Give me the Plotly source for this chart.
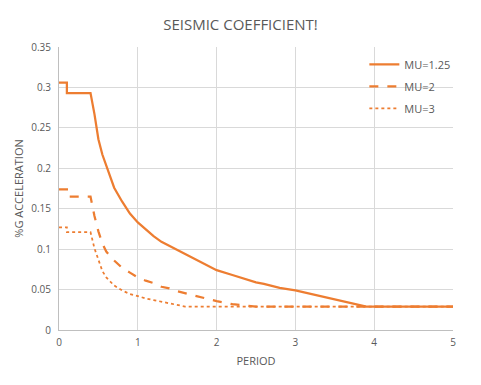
import plotly.graph_objects as go

periods = [0, 0.1, 0.1, 0.4, 0.45, 0.5, 0.55, 0.6, 0.7, 0.8, 0.9, 1.0, 1.1, 1.2, 1.3,
           1.4, 1.5, 1.6, 1.8, 2.0, 2.2, 2.4, 2.5, 2.6, 2.8, 3.0, 3.5, 3.9, 4.0, 4.5, 5.0]

mu_125 = [0.306, 0.306, 0.293, 0.293, 0.267, 0.236, 0.217, 0.203, 0.176, 0.159, 0.144, 0.133,
          0.124, 0.116, 0.109, 0.104, 0.098, 0.093, 0.083, 0.074, 0.068, 0.062, 0.059, 0.057,
          0.052, 0.049, 0.038, 0.029, 0.029, 0.029, 0.029]
mu_2 = [0.174, 0.174, 0.165, 0.165, 0.141, 0.122, 0.107, 0.097, 0.086, 0.077, 0.071, 0.065,
        0.061, 0.058, 0.0535, 0.0515, 0.048, 0.0455, 0.040, 0.0357, 0.032, 0.0295, 0.029, 0.029,
        0.029, 0.029, 0.029, 0.029, 0.029, 0.029, 0.029]
mu_3 = [0.127, 0.127, 0.121, 0.121, 0.101, 0.086, 0.073, 0.065, 0.055, 0.049, 0.0445, 0.042,
        0.039, 0.037, 0.035, 0.033, 0.031, 0.029, 0.029, 0.029, 0.029, 0.029, 0.029, 0.029,
        0.029, 0.029, 0.029, 0.029, 0.029, 0.029, 0.029]

series_names = ["MU=1.25", "MU=2", "MU=3"]
x_ticks = [0, 1, 2, 3, 4, 5]
y_ticks = [0, 0.05, 0.1, 0.15, 0.2, 0.25, 0.3, 0.35]

ORANGE = "#ED7D31"
FONT = "Open Sans"
TXT = "#595959"

fig = go.Figure()
styles = [("solid", 2.25), ("dash", 2.25), ("dot", 1.75)]
for i, (name, vals) in enumerate(zip(series_names, [mu_125, mu_2, mu_3])):
    dash, w = styles[i]
    fig.add_trace(go.Scatter(x=periods, y=vals, mode="lines", name=name,
                             legendgroup=name,
                             line=dict(color=ORANGE, width=w, dash=dash)))

fig.update_layout(
    width=481, height=385,
    margin=dict(l=59, r=28, t=47, b=55),
    paper_bgcolor="white", plot_bgcolor="white",
    font=dict(family=FONT, color=TXT, size=10),
    title=dict(text="SEISMIC COEFFICIENT!", x=0.5, xanchor="center", y=0.935, yanchor="middle",
               font=dict(family=FONT, size=15, color=TXT)),
    showlegend=True,
    legend=dict(x=0.775, y=0.99, xanchor="left", yanchor="top", bgcolor="rgba(0,0,0,0)",
                font=dict(size=11, color=TXT), tracegroupgap=3, traceorder="grouped"),
    xaxis=dict(range=[0, 5], tickvals=x_ticks, showgrid=True, gridcolor="#D9D9D9", gridwidth=1,
               showline=True, linecolor="#BFBFBF", linewidth=1, zeroline=False, automargin=False,
               ticks="", ticklabelstandoff=3, tickfont=dict(size=10, color=TXT),
               title=dict(text="PERIOD", font=dict(size=11, color=TXT), standoff=9)),
    yaxis=dict(range=[0, 0.35], tickvals=y_ticks, showgrid=True, gridcolor="#D9D9D9", gridwidth=1,
               showline=True, linecolor="#BFBFBF", linewidth=1, zeroline=False, automargin=False,
               ticks="", ticklabelstandoff=5, tickfont=dict(size=10, color=TXT),
               title=dict(text="%G ACCELERATION", font=dict(size=11, color=TXT), standoff=5)),
)

fig.write_html("out.html", config={"displayModeBar": False},
               post_script="document.body.style.margin='0';")
